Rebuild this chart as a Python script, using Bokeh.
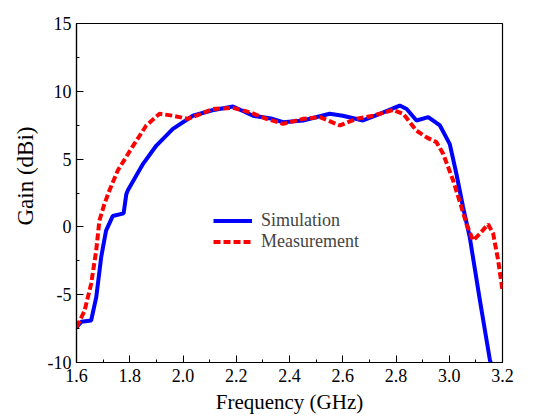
from bokeh.plotting import figure
from bokeh.models import FixedTicker, Legend, LegendItem, Range1d, Title
from bokeh.embed import file_html
from bokeh.resources import INLINE

# Simulation (blue solid)
sim_freq = [1.600, 1.618, 1.655, 1.674, 1.693, 1.711, 1.736, 1.777, 1.787, 1.793,
            1.850, 1.900, 1.962, 2.037, 2.110, 2.188, 2.263, 2.330, 2.376, 2.451,
            2.551, 2.600, 2.676, 2.739, 2.814, 2.840, 2.877, 2.921, 2.965, 3.002,
            3.027, 3.052, 3.077, 3.115, 3.153, 3.156]
sim_gain = [-7.4, -7.0, -6.9, -5.2, -2.2, -0.27, 0.8, 1.0, 2.4, 2.7,
            4.65, 6.0, 7.23, 8.2, 8.6, 8.88, 8.2, 8.0, 7.72, 7.85,
            8.34, 8.2, 7.85, 8.34, 8.95, 8.7, 7.85, 8.1, 7.48, 6.1,
            3.9, 1.45, -0.76, -5.4, -9.85, -10.0]

# Measurement (red dashed)
meas_freq = [1.600, 1.630, 1.655, 1.674, 1.686, 1.705, 1.724, 1.755, 1.810, 1.862,
             1.912, 1.962, 2.018, 2.050, 2.112, 2.188, 2.250, 2.313, 2.376, 2.451,
             2.514, 2.589, 2.651, 2.714, 2.789, 2.827, 2.877, 2.915, 2.952, 2.977,
             3.015, 3.046, 3.065, 3.090, 3.115, 3.146, 3.165, 3.184, 3.200]
meas_gain = [-7.4, -6.2, -4.2, -1.74, 0.47, 1.7, 2.7, 4.16, 5.9, 7.48,
             8.34, 8.2, 7.97, 8.2, 8.7, 8.78, 8.46, 7.97, 7.6, 7.97,
             8.1, 7.48, 7.97, 8.2, 8.63, 8.34, 7.1, 6.6, 6.25, 5.4,
             3.4, 1.45, 0.2, -1.0, -0.5, 0.2, -0.5, -2.5, -4.7]

x_ticks = [1.6, 1.8, 2.0, 2.2, 2.4, 2.6, 2.8, 3.0, 3.2]
x_tick_labels = ["1.6", "1.8", "2.0", "2.2", "2.4", "2.6", "2.8", "3.0", "3.2"]
x_minor = [1.6 + 0.1 * i for i in range(17)]
y_ticks = [-10, -5, 0, 5, 10, 15]
y_tick_labels = ["-10", "-5", "0", "5", "10", "15"]
y_minor = [-10 + 2.5 * i for i in range(11)]

series_names = ["Simulation", "Measurement"]
x_title = "Frequency (GHz)"
y_title = "Gain (dBi)"

FONT = "Liberation Serif"

p = figure(frame_width=426, frame_height=339, output_backend="svg", toolbar_location=None,
           x_range=Range1d(1.6, 3.2), y_range=Range1d(-10, 15),
           min_border_left=76, min_border_top=23, min_border_right=30, min_border_bottom=40)
p.background_fill_color = "white"
p.border_fill_color = "white"
p.outline_line_color = "black"
p.outline_line_width = 1.2
p.xgrid.visible = False
p.ygrid.visible = False

r_sim = p.line(sim_freq, sim_gain, line_color="#0000ff", line_width=4)
r_meas = p.line(meas_freq, meas_gain, line_color="#ff0000", line_width=4, line_dash="7 3")

for ax, ticks, labels, minor in ((p.xaxis[0], x_ticks, x_tick_labels, x_minor),
                                 (p.yaxis[0], y_ticks, y_tick_labels, y_minor)):
    ax.ticker = FixedTicker(ticks=ticks, minor_ticks=minor)
    ax.major_label_overrides = {t: l for t, l in zip(ticks, labels)}
    ax.major_tick_in = 7
    ax.major_tick_out = 0
    ax.minor_tick_in = 3
    ax.minor_tick_out = 0
    ax.axis_line_color = "black"
    ax.axis_line_width = 1.2
    ax.major_tick_line_width = 1
    ax.minor_tick_line_width = 1
    ax.major_label_text_font = FONT
    ax.major_label_text_font_size = "18px"
    ax.major_label_text_color = "black"
    ax.axis_label_text_font = FONT
    ax.axis_label_text_font_size = "21px"
    ax.axis_label_text_font_style = "normal"
    ax.axis_label_text_color = "black"

p.xaxis[0].major_label_standoff = 6
p.yaxis[0].major_label_standoff = 5
p.xaxis[0].axis_label = x_title
p.xaxis[0].axis_label_standoff = 5

ytitle = Title(text=y_title, align="left", offset=137, standoff=13,
               text_font=FONT, text_font_size="23px", text_font_style="normal",
               text_color="black")
p.add_layout(ytitle, "left")

legend = Legend(items=[LegendItem(label=series_names[0], renderers=[r_sim]),
                       LegendItem(label=series_names[1], renderers=[r_meas])],
                location=(137, 110), orientation="vertical",
                glyph_width=39, glyph_height=21, label_height=21, spacing=0,
                padding=0, margin=0, label_standoff=9,
                label_text_font=FONT, label_text_font_size="18px",
                border_line_alpha=0, background_fill_alpha=0)
p.add_layout(legend, "center")

open("out.html", "w").write(file_html(p, INLINE))
